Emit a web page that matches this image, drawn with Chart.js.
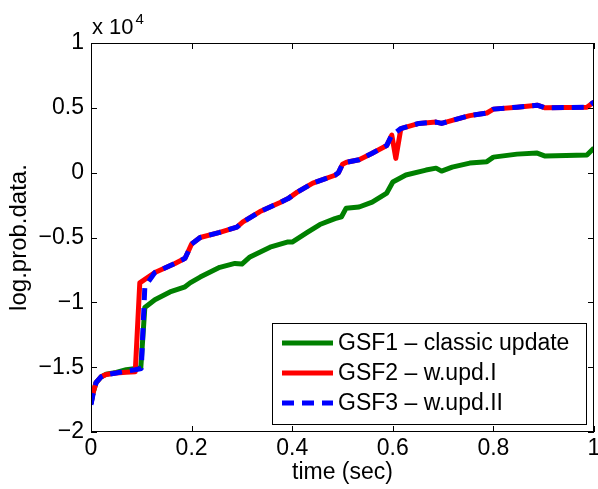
<!DOCTYPE html>
<html>
<head>
<meta charset="utf-8">
<script src="https://cdn.jsdelivr.net/npm/chart.js@4.4.1/dist/chart.umd.min.js"></script>
<style>
  html, body { margin: 0; padding: 0; background: #fff; }
</style>
</head>
<body>
<canvas id="myChart" width="598" height="489"></canvas>
<script>
// values are in units of 1e4 (the axis shows "x 10^4")
const xTicks = [0, 0.2, 0.4, 0.6, 0.8, 1];
const yTicks = [-2, -1.5, -1, -0.5, 0, 0.5, 1];

const seriesNames = ["GSF1 \u2013 classic update", "GSF2 \u2013 w.upd.I", "GSF3 \u2013 w.upd.II"];

// GSF1 - classic update (green)
const gsf1Time = [0, 0.004, 0.01, 0.02, 0.03, 0.05, 0.07, 0.09, 0.099, 0.107,
  0.127, 0.157, 0.187, 0.197, 0.217, 0.256, 0.286, 0.300, 0.316, 0.356,
  0.390, 0.400, 0.430, 0.455, 0.485, 0.498, 0.507, 0.533, 0.559, 0.588,
  0.600, 0.626, 0.666, 0.686, 0.697, 0.718, 0.753, 0.787, 0.800, 0.847,
  0.887, 0.903, 0.986, 1.0];
const gsf1Value = [-1.78, -1.70, -1.62, -1.575, -1.555, -1.54, -1.52, -1.51, -1.505, -1.04,
  -0.98, -0.92, -0.88, -0.85, -0.805, -0.73, -0.70, -0.705, -0.65, -0.575,
  -0.535, -0.535, -0.46, -0.40, -0.355, -0.34, -0.275, -0.265, -0.227, -0.157,
  -0.072, -0.018, 0.02, 0.035, 0.012, 0.043, 0.074, 0.085, 0.12, 0.143,
  0.151, 0.128, 0.136, 0.19];

// GSF2 - w.upd.I (red)
const gsf2Time = [0, 0.004, 0.01, 0.02, 0.03, 0.05, 0.07, 0.088, 0.097, 0.127,
  0.167, 0.187, 0.193, 0.200, 0.217, 0.256, 0.290, 0.302, 0.336, 0.376,
  0.392, 0.410, 0.441, 0.485, 0.492, 0.500, 0.508, 0.533, 0.559, 0.588,
  0.598, 0.606, 0.616, 0.652, 0.686, 0.697, 0.720, 0.753, 0.787, 0.800,
  0.847, 0.887, 0.903, 0.986, 1.0];
const gsf2Value = [-1.78, -1.70, -1.62, -1.575, -1.557, -1.545, -1.54, -1.535, -0.85, -0.77,
  -0.70, -0.66, -0.61, -0.55, -0.50, -0.46, -0.42, -0.38, -0.30, -0.23,
  -0.20, -0.15, -0.08, -0.02, 0.0, 0.065, 0.08, 0.10, 0.15, 0.21,
  0.29, 0.11, 0.34, 0.38, 0.39, 0.38, 0.405, 0.44, 0.46, 0.49,
  0.505, 0.52, 0.50, 0.505, 0.545];

// GSF3 - w.upd.II (blue dashed)
const gsf3Time = [0, 0.004, 0.01, 0.02, 0.03, 0.05, 0.07, 0.088, 0.100, 0.107,
  0.127, 0.167, 0.187, 0.193, 0.200, 0.217, 0.256, 0.290, 0.302, 0.336,
  0.376, 0.392, 0.410, 0.441, 0.485, 0.492, 0.500, 0.508, 0.533, 0.559,
  0.588, 0.598, 0.606, 0.616, 0.652, 0.686, 0.697, 0.720, 0.753, 0.787,
  0.800, 0.847, 0.887, 0.903, 0.986, 1.0];
const gsf3Value = [-1.79, -1.71, -1.62, -1.575, -1.557, -1.545, -1.53, -1.52, -1.51, -0.88,
  -0.77, -0.70, -0.66, -0.61, -0.55, -0.50, -0.46, -0.42, -0.38, -0.30,
  -0.23, -0.20, -0.15, -0.08, -0.02, 0.0, 0.065, 0.08, 0.10, 0.15,
  0.21, 0.29, 0.31, 0.34, 0.38, 0.39, 0.38, 0.405, 0.44, 0.46,
  0.49, 0.505, 0.52, 0.50, 0.505, 0.545];

const toPoints = (xs, ys) => xs.map((t, i) => ({ x: t, y: ys[i] }));
const fontFamily = "'Liberation Sans', Arial, Helvetica, sans-serif";

// box, inward ticks, exponent label and legend like a matlab figure
const matlabAxes = {
  id: "matlabAxes",
  afterDatasetsDraw(chart) {
    const { ctx, chartArea: { left, right, top, bottom }, scales: { x, y } } = chart;
    ctx.save();
    ctx.strokeStyle = "#000";
    ctx.lineWidth = 1;
    ctx.strokeRect(left + 0.5, top + 0.5, right - left - 1, bottom - top - 1);

    ctx.beginPath();
    xTicks.forEach((v) => {
      const px = Math.round(x.getPixelForValue(v)) + 0.5;
      ctx.moveTo(px, bottom);
      ctx.lineTo(px, bottom - 6);
      ctx.moveTo(px, top);
      ctx.lineTo(px, top + 6);
    });
    yTicks.forEach((v) => {
      const py = Math.round(y.getPixelForValue(v)) + 0.5;
      ctx.moveTo(left, py);
      ctx.lineTo(left + 6, py);
      ctx.moveTo(right, py);
      ctx.lineTo(right - 6, py);
    });
    ctx.stroke();

    // exponent
    ctx.fillStyle = "#000";
    ctx.textBaseline = "alphabetic";
    ctx.font = "22px " + fontFamily;
    ctx.fillText("x 10", 92, 34);
    const w = ctx.measureText("x 10").width;
    ctx.font = "15px " + fontFamily;
    ctx.fillText("4", 92 + w + 2, 24);

    // legend
    const lx = 272, ly = 323, lw = 314, lh = 101;
    ctx.fillStyle = "#fff";
    ctx.fillRect(lx, ly, lw, lh);
    ctx.strokeRect(lx + 0.5, ly + 0.5, lw, lh);
    ctx.font = "23px " + fontFamily;
    ctx.textBaseline = "middle";
    chart.data.datasets.forEach((ds, i) => {
      const rowY = ly + 20 + i * 30;
      ctx.beginPath();
      ctx.strokeStyle = ds.borderColor;
      ctx.lineWidth = 5;
      ctx.setLineDash(ds.borderDash || []);
      ctx.moveTo(282, rowY);
      ctx.lineTo(333, rowY);
      ctx.stroke();
      ctx.setLineDash([]);
      ctx.fillStyle = "#000";
      ctx.fillText(ds.label, 338, rowY + 1);
    });
    ctx.restore();
  },
};

const ctx = document.getElementById("myChart").getContext("2d");

const config = {
  type: "line",
  data: {
    datasets: [
      {
        label: seriesNames[0],
        data: toPoints(gsf1Time, gsf1Value),
        borderColor: "#008000",
        borderWidth: 5,
        order: 3,
      },
      {
        label: seriesNames[1],
        data: toPoints(gsf2Time, gsf2Value),
        borderColor: "#ff0000",
        borderWidth: 5,
        order: 2,
      },
      {
        label: seriesNames[2],
        data: toPoints(gsf3Time, gsf3Value),
        borderColor: "#0000ff",
        borderWidth: 5,
        borderDash: [12, 8],
        order: 1,
      },
    ],
  },
  options: {
    responsive: false,
    animation: false,
    devicePixelRatio: 1,
    layout: { padding: { left: 0, top: 43, right: 4, bottom: 0 } },
    elements: {
      point: { radius: 0 },
      line: { tension: 0, borderJoinStyle: "round", fill: false },
    },
    plugins: { legend: { display: false }, tooltip: { enabled: false } },
    scales: {
      x: {
        type: "linear",
        min: 0,
        max: 1,
        grid: { display: false, drawTicks: false },
        border: { display: false },
        afterBuildTicks: (scale) => {
          scale.ticks = xTicks.map((v) => ({ value: v }));
        },
        ticks: {
          padding: 3,
          color: "#000",
          font: { family: fontFamily, size: 23 },
          maxRotation: 0,
          callback: (v) => String(+v.toFixed(1)),
        },
        title: {
          display: true,
          text: "time (sec)",
          color: "#000",
          font: { family: fontFamily, size: 23 },
          padding: { top: 0, bottom: 3 },
        },
        afterFit: (scale) => {
          scale.height = 57;
          scale.paddingLeft = 0;
          scale.paddingRight = 0;
        },
      },
      y: {
        type: "linear",
        min: -2,
        max: 1,
        grid: { display: false, drawTicks: false },
        border: { display: false },
        afterBuildTicks: (scale) => {
          scale.ticks = yTicks.map((v) => ({ value: v }));
        },
        ticks: {
          padding: 7,
          color: "#000",
          font: { family: fontFamily, size: 23 },
          callback: (v) => String(v).replace("-", "\u2212"),
        },
        title: {
          display: true,
          text: "log.prob.data.",
          color: "#000",
          font: { family: fontFamily, size: 24 },
          padding: { top: 5, bottom: 0 },
        },
        afterFit: (scale) => {
          scale.width = 91;
          scale.paddingTop = 0;
          scale.paddingBottom = 0;
        },
      },
    },
  },
  plugins: [matlabAxes],
};

const chart = new Chart(ctx, config);
</script>
</body>
</html>
